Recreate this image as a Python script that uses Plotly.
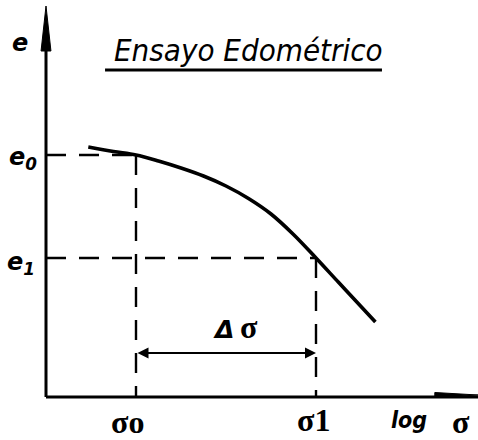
import plotly.graph_objects as go

# Oedometer test curve: void ratio e against log of effective stress
log_sigma_curve = [0.47, 0.75, 1.0, 1.25, 1.5, 1.75, 2.0, 2.25, 2.5, 2.75, 3.0, 3.25, 3.5, 3.66]
e_curve = [2.50, 2.455, 2.42, 2.36, 2.29, 2.21, 2.11, 1.985, 1.83, 1.625, 1.39, 1.147, 0.905, 0.75]

# Reference states read on the curve
sigma_0 = 1.0
sigma_1 = 3.0
e_0 = 2.42
e_1 = 1.39

# Height of the Δσ dimension line
delta_level = 0.44

# Extent of the hand-drawn axes
axis_x_end = 4.8
axis_y_end = 3.91

title_text = "Ensayo Edométrico"
x_labels = ["σo", "σ1"]
y_labels = ["e<sub>0</sub>", "e<sub>1</sub>"]

BLACK = "#000000"
DASH = "20px,13px"

fig = go.Figure()

# dashed guide lines from the axes to the two curve points
for s, e in [(sigma_0, e_0), (sigma_1, e_1)]:
    fig.add_trace(go.Scatter(x=[0, s], y=[e, e], mode="lines",
                             line=dict(color=BLACK, width=2.4, dash=DASH)))
    fig.add_trace(go.Scatter(x=[s, s], y=[e, 0], mode="lines",
                             line=dict(color=BLACK, width=2.4, dash=DASH)))

# axes
fig.add_trace(go.Scatter(x=[0, 0], y=[0, axis_y_end - 0.3], mode="lines",
                         line=dict(color=BLACK, width=3)))
fig.add_trace(go.Scatter(x=[-0.055, 0, 0.055, -0.055],
                         y=[axis_y_end - 0.45, axis_y_end, axis_y_end - 0.45, axis_y_end - 0.45],
                         mode="lines", fill="toself", fillcolor=BLACK,
                         line=dict(color=BLACK, width=1)))
fig.add_trace(go.Scatter(x=[0, axis_x_end], y=[0, 0], mode="lines",
                         line=dict(color=BLACK, width=3)))
fig.add_trace(go.Scatter(x=[axis_x_end - 0.48, axis_x_end, axis_x_end - 0.48, axis_x_end - 0.48],
                         y=[0.045, 0.02, -0.005, 0.045],
                         mode="lines", fill="toself", fillcolor=BLACK,
                         line=dict(color=BLACK, width=1)))

# compression curve
fig.add_trace(go.Scatter(x=log_sigma_curve, y=e_curve, mode="lines",
                         line=dict(color=BLACK, width=3.6, shape="spline", smoothing=1.0)))

# title underline
fig.add_trace(go.Scatter(x=[0.656, 3.733], y=[3.27, 3.27], mode="lines",
                         line=dict(color=BLACK, width=3)))

annotations = [
    # Δσ dimension arrow between the two stresses
    dict(x=sigma_1, y=delta_level, ax=sigma_0, ay=delta_level,
         xref="x", yref="y", axref="x", ayref="y", text="",
         showarrow=True, arrowside="end+start", arrowhead=2,
         arrowsize=1.1, arrowwidth=2, arrowcolor=BLACK),
    dict(x=2.25, y=3.47, text=title_text,
         font=dict(family="DejaVu Sans Condensed", size=31, color=BLACK, style="italic")),
    dict(x=-0.29, y=3.54, text="e",
         font=dict(family="DejaVu Sans", size=24, color=BLACK, style="italic", weight="bold")),
    dict(x=-0.26, y=e_0 - 0.03, text=y_labels[0],
         font=dict(family="DejaVu Sans", size=24, color=BLACK, style="italic", weight="bold")),
    dict(x=-0.28, y=e_1 - 0.05, text=y_labels[1],
         font=dict(family="DejaVu Sans", size=24, color=BLACK, style="italic", weight="bold")),
    dict(x=sigma_0 - 0.09, y=-0.25, text=x_labels[0],
         font=dict(family="Liberation Serif", size=32, color=BLACK, weight="bold")),
    dict(x=sigma_1 - 0.03, y=-0.23, text=x_labels[1],
         font=dict(family="Liberation Serif", size=32, color=BLACK, weight="bold")),
    dict(x=4.03, y=-0.23, text="log",
         font=dict(family="DejaVu Sans Condensed", size=23, color=BLACK, style="italic", weight="bold")),
    dict(x=4.61, y=-0.25, text="σ",
         font=dict(family="Liberation Serif", size=32, color=BLACK, weight="bold")),
    dict(x=1.97, y=0.68, text="<i><b>Δ</b></i>",
         font=dict(family="DejaVu Sans", size=25, color=BLACK)),
    dict(x=2.25, y=0.70, text="σ",
         font=dict(family="Liberation Serif", size=32, color=BLACK, weight="bold")),
]
for a in annotations:
    a.setdefault("showarrow", False)
    a.setdefault("xref", "x")
    a.setdefault("yref", "y")
    a.setdefault("xanchor", "center")
    a.setdefault("yanchor", "middle")

fig.update_layout(
    width=478, height=440,
    margin=dict(l=0, r=0, t=0, b=0),
    paper_bgcolor="white", plot_bgcolor="white",
    showlegend=False,
    xaxis=dict(range=[-46 / 90, 432 / 90], visible=False, fixedrange=True),
    yaxis=dict(range=[-0.43, 3.97], visible=False, fixedrange=True),
    annotations=annotations,
)

fig.write_html("out.html")
